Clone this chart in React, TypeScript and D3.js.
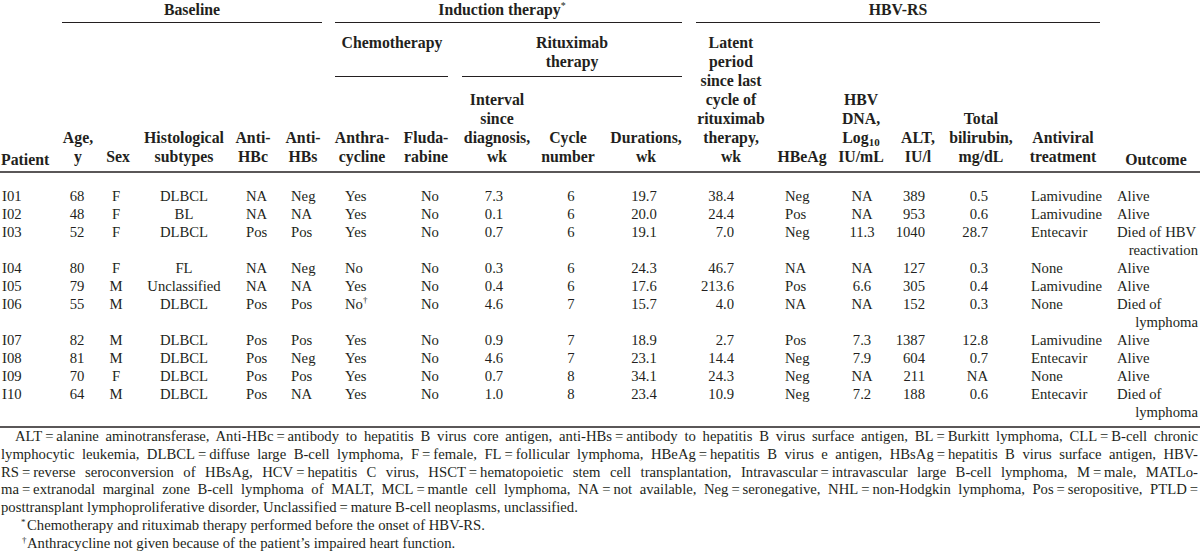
import React, { useLayoutEffect, useRef } from "react";
import * as d3 from "d3";

// ---------- data ----------
const patients = ["I01", "I02", "I03", "I04", "I05", "I06", "I07", "I08", "I09", "I10"];
const ages = [68, 48, 52, 80, 79, 55, 82, 81, 70, 64];
const sexes = ["F", "F", "F", "F", "M", "M", "M", "M", "F", "M"];
const subtypes = ["DLBCL", "BL", "DLBCL", "FL", "Unclassified", "DLBCL", "DLBCL", "DLBCL", "DLBCL", "DLBCL"];
const antiHBc = ["NA", "NA", "Pos", "NA", "NA", "Pos", "Pos", "Pos", "Pos", "Pos"];
const antiHBs = ["Neg", "NA", "Pos", "Neg", "NA", "Pos", "Pos", "Neg", "Pos", "NA"];
const anthracycline = ["Yes", "Yes", "Yes", "No", "Yes", "No†", "Yes", "Yes", "Yes", "Yes"];
const fludarabine = ["No", "No", "No", "No", "No", "No", "No", "No", "No", "No"];
const intervalWk = [7.3, 0.1, 0.7, 0.3, 0.4, 4.6, 0.9, 4.6, 0.7, 1.0];
const cycleNumber = [6, 6, 6, 6, 6, 7, 7, 7, 8, 8];
const durationWk = [19.7, 20.0, 19.1, 24.3, 17.6, 15.7, 18.9, 23.1, 34.1, 23.4];
const latentWk = [38.4, 24.4, 7.0, 46.7, 213.6, 4.0, 2.7, 14.4, 24.3, 10.9];
const hbeag = ["Neg", "Pos", "Neg", "NA", "Pos", "NA", "Pos", "Neg", "Neg", "Neg"];
const hbvDna: (number | null)[] = [null, null, 11.3, null, 6.6, null, 7.3, 7.9, null, 7.2];
const altValues = [389, 953, 1040, 127, 305, 152, 1387, 604, 211, 188];
const bilirubin: (number | null)[] = [0.5, 0.6, 28.7, 0.3, 0.4, 0.3, 12.8, 0.7, null, 0.6];
const antiviral = ["Lamivudine", "Lamivudine", "Entecavir", "None", "Lamivudine", "None", "Lamivudine", "Entecavir", "None", "Entecavir"];
const outcomes = [
  ["Alive"], ["Alive"], ["Died of HBV", "reactivation"], ["Alive"], ["Alive"],
  ["Died of", "lymphoma"], ["Alive"], ["Alive"], ["Alive"], ["Died of", "lymphoma"],
];

const footnoteLines = [
  "ALT\u2009=\u2009alanine aminotransferase, Anti-HBc\u2009=\u2009antibody to hepatitis B virus core antigen, anti-HBs\u2009=\u2009antibody to hepatitis B virus surface antigen, BL\u2009=\u2009Burkitt lymphoma, CLL\u2009=\u2009B-cell chronic",
  "lymphocytic leukemia, DLBCL\u2009=\u2009diffuse large B-cell lymphoma, F\u2009=\u2009female, FL\u2009=\u2009follicular lymphoma, HBeAg\u2009=\u2009hepatitis B virus e antigen, HBsAg\u2009=\u2009hepatitis B virus surface antigen, HBV-",
  "RS\u2009=\u2009reverse seroconversion of HBsAg, HCV\u2009=\u2009hepatitis C virus, HSCT\u2009=\u2009hematopoietic stem cell transplantation, Intravascular\u2009=\u2009intravascular large B-cell lymphoma, M\u2009=\u2009male, MATLo-",
  "ma\u2009=\u2009extranodal marginal zone B-cell lymphoma of MALT, MCL\u2009=\u2009mantle cell lymphoma, NA\u2009=\u2009not available, Neg\u2009=\u2009seronegative, NHL\u2009=\u2009non-Hodgkin lymphoma, Pos\u2009=\u2009seropositive, PTLD\u2009=",
  "posttransplant lymphoproliferative disorder, Unclassified\u2009=\u2009mature B-cell neoplasms, unclassified.",
];
const footnoteMarks = [
  ["*", "Chemotherapy and rituximab therapy performed before the onset of HBV-RS."],
  ["†", "Anthracycline not given because of the patient’s impaired heart function."],
];

// ---------- layout ----------
const W = 1200;
const H = 560;
const FONT = "'Liberation Serif', 'Times New Roman', Times, serif";
const INK = "#231f20";
const f1 = d3.format(".1f");
const na = (v: number | null) => (v == null ? "NA" : f1(v));

type Col = { x: number; anchor: "start" | "middle" | "end"; values: string[] };
const columns: Col[] = [
  { x: 2, anchor: "start", values: patients },
  { x: 77, anchor: "middle", values: ages.map(String) },
  { x: 116, anchor: "middle", values: sexes },
  { x: 184, anchor: "middle", values: subtypes },
  { x: 246, anchor: "start", values: antiHBc },
  { x: 291, anchor: "start", values: antiHBs },
  { x: 345, anchor: "start", values: anthracycline },
  { x: 421, anchor: "start", values: fludarabine },
  { x: 494, anchor: "middle", values: intervalWk.map(f1) },
  { x: 571, anchor: "middle", values: cycleNumber.map(String) },
  { x: 644, anchor: "middle", values: durationWk.map(f1) },
  { x: 734, anchor: "end", values: latentWk.map(f1) },
  { x: 785, anchor: "start", values: hbeag },
  { x: 862, anchor: "middle", values: hbvDna.map(na) },
  { x: 925, anchor: "end", values: altValues.map(String) },
  { x: 988, anchor: "end", values: bilirubin.map(na) },
  { x: 1031, anchor: "start", values: antiviral },
];

type Head = { x: number; lines: string[]; anchor?: "start" | "middle" };
const bottomHeads: Head[] = [
  { x: 1, lines: ["Patient"], anchor: "start" },
  { x: 78, lines: ["Age,", "y"] },
  { x: 118, lines: ["Sex"] },
  { x: 184, lines: ["Histological", "subtypes"] },
  { x: 253, lines: ["Anti-", "HBc"] },
  { x: 303, lines: ["Anti-", "HBs"] },
  { x: 362, lines: ["Anthra-", "cycline"] },
  { x: 426, lines: ["Fluda-", "rabine"] },
  { x: 497, lines: ["Interval", "since", "diagnosis,", "wk"] },
  { x: 568, lines: ["Cycle", "number"] },
  { x: 646, lines: ["Durations,", "wk"] },
  { x: 731, lines: ["Latent", "period", "since last", "cycle of", "rituximab", "therapy,", "wk"] },
  { x: 802, lines: ["HBeAg"] },
  { x: 918, lines: ["ALT,", "IU/l"] },
  { x: 981, lines: ["Total", "bilirubin,", "mg/dL"] },
  { x: 1063, lines: ["Antiviral", "treatment"] },
  { x: 1156, lines: ["Outcome"] },
];

const groups = [
  { label: "Baseline", x: 192, x0: 62, x1: 322, y: 15, ry: 22.5, star: false },
  { label: "Induction therapy", x: 502, x0: 335, x1: 682, y: 15, ry: 22.5, star: true },
  { label: "HBV-RS", x: 898, x0: 696, x1: 1100, y: 15, ry: 22.5, star: false },
];
const subGroups = [
  { lines: ["Chemotherapy"], x: 392, x0: 335, x1: 448 },
  { lines: ["Rituximab", "therapy"], x: 572, x0: 462, x1: 682 },
];

const HEAD_FS = 15.8;
const BODY_FS = 14.7;
const NOTE_FS = 14.7;
const HEAD_PITCH = 19;
const HEAD_BOTTOM = 162;

// line index for each patient row (outcome lines may wrap)
const lineStart: number[] = [];
outcomes.reduce((acc, o, i) => {
  lineStart[i] = acc;
  return acc + o.length;
}, 0);
const totalLines = d3.sum(outcomes, (o) => o.length);
const yLine = d3.scaleLinear().domain([0, totalLines - 1]).range([201, 201 + (totalLines - 1) * 18]);
const yNote = d3.scaleLinear().domain([0, 6]).range([441, 441 + 6 * 17.8]);

export default function App() {
  const noteRefs = useRef<(SVGTextElement | null)[]>([]);

  useLayoutEffect(() => {
    noteRefs.current.forEach((el, i) => {
      if (!el) return;
      const x0 = i === 0 ? 15 : 1;
      const target = 1198 - x0;
      el.setAttribute("word-spacing", "0");
      const len = el.getComputedTextLength();
      const spaces = (footnoteLines[i].match(/ /g) || []).length;
      if (spaces > 0) el.setAttribute("word-spacing", String((target - len) / spaces));
    });
  }, []);

  return (
    <svg
      width={W}
      height={H}
      viewBox={`0 0 ${W} ${H}`}
      style={{ position: "absolute", left: 0, top: 0, background: "#fff" }}
      fontFamily={FONT}
      fill={INK}
    >
      <rect x={0} y={0} width={W} height={H} fill="#fff" />
      {/* group headers */}
      <g fontWeight="bold" fontSize={HEAD_FS}>
        {groups.map((g) => (
          <g key={g.label}>
            <text x={g.x} y={g.y} textAnchor="middle">
              {g.label}
              {g.star && (
                <tspan fontSize={10} fontWeight="normal" dy={-6}>
                  *
                </tspan>
              )}
            </text>
            <line x1={g.x0} x2={g.x1} y1={g.ry} y2={g.ry} stroke={INK} strokeWidth={1} />
          </g>
        ))}
        {subGroups.map((s) => (
          <g key={s.lines[0]}>
            {s.lines.map((l, i) => (
              <text key={l} x={s.x} y={48 + i * HEAD_PITCH} textAnchor="middle">
                {l}
              </text>
            ))}
            <line x1={s.x0} x2={s.x1} y1={76.5} y2={76.5} stroke={INK} strokeWidth={1} />
          </g>
        ))}
        {bottomHeads.map((h) =>
          h.lines.map((l, i) => {
            const y = HEAD_BOTTOM - (h.lines.length - 1 - i) * HEAD_PITCH + (h.lines.length === 1 && (l === "Patient" || l === "Outcome") ? 3 : 0);
            return (
              <text key={h.x + l} x={h.x} y={y} textAnchor={h.anchor || "middle"}>
                {l}
              </text>
            );
          })
        )}
        {/* HBV DNA, Log10 IU/mL */}
        {["HBV", "DNA,", "LOG", "IU/mL"].map((l, i) => {
          const y = HEAD_BOTTOM - (3 - i) * HEAD_PITCH;
          if (l === "LOG")
            return (
              <text key={l} x={861} y={y} textAnchor="middle">
                Log
                <tspan fontSize={11} dy={3}>
                  10
                </tspan>
              </text>
            );
          return (
            <text key={l} x={861} y={y} textAnchor="middle">
              {l}
            </text>
          );
        })}
      </g>

      <line x1={0} x2={W} y1={172} y2={172} stroke={INK} strokeWidth={1.5} />

      {/* body */}
      <g fontSize={BODY_FS}>
        {columns.map((c, ci) =>
          c.values.map((v, ri) => {
            const y = yLine(lineStart[ri]);
            if (v.endsWith("†")) {
              return (
                <text key={ci + "-" + ri} x={c.x} y={y} textAnchor={c.anchor}>
                  {v.slice(0, -1)}
                  <tspan fontSize={9} dy={-6}>
                    †
                  </tspan>
                </text>
              );
            }
            return (
              <text key={ci + "-" + ri} x={c.x} y={y} textAnchor={c.anchor}>
                {v}
              </text>
            );
          })
        )}
        {outcomes.map((o, ri) =>
          o.map((l, li) => (
            <text
              key={"o" + ri + li}
              x={li === 0 ? 1117 : 1198}
              y={yLine(lineStart[ri] + li)}
              textAnchor={li === 0 ? "start" : "end"}
            >
              {l}
            </text>
          ))
        )}
      </g>

      <line x1={0} x2={W} y1={427} y2={427} stroke={INK} strokeWidth={1.5} />

      {/* footnotes */}
      <g fontSize={NOTE_FS}>
        {footnoteLines.map((l, i) => (
          <text
            key={"n" + i}
            ref={(el) => {
              if (i < 4) noteRefs.current[i] = el;
            }}
            x={i === 0 ? 15 : 1}
            y={yNote(i)}
            style={{ whiteSpace: "pre" }}
          >
            {l}
          </text>
        ))}
        {footnoteMarks.map(([m, t], i) => (
          <g key={"m" + i}>
            <text x={m === "*" ? 21 : 22} y={yNote(5 + i) - 5} fontSize={9}>
              {m}
            </text>
            <text x={27} y={yNote(5 + i)}>
              {t}
            </text>
          </g>
        ))}
      </g>
    </svg>
  );
}
